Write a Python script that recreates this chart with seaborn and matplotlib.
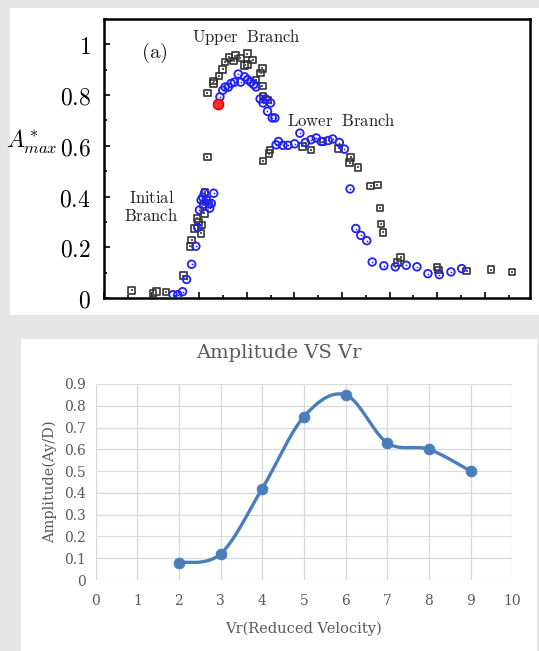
import numpy as np
import pandas as pd
import matplotlib
matplotlib.use("Agg")
import matplotlib.pyplot as plt
from matplotlib.patches import Rectangle
from matplotlib.ticker import MultipleLocator, FuncFormatter
import seaborn as sns

# top panel data: A*max against reduced velocity
sq_x = [1.16, 2.06, 2.20, 2.61, 3.33, 3.62, 3.68, 3.81, 3.91, 3.96, 4.08, 4.11, 4.15, 4.22,
        4.25, 4.31, 4.34, 4.34, 4.60, 4.61, 4.84, 4.98, 5.09, 5.26, 5.45, 5.52, 5.73, 5.91,
        6.02, 6.03, 6.25, 6.39, 6.58, 6.65, 6.65, 6.68, 6.87, 6.68, 6.94, 6.97, 8.34, 8.70,
        9.21, 9.86, 10.32, 10.36, 10.68, 11.20, 11.49, 11.59, 11.63, 11.73, 12.34, 12.46,
        14.00, 14.05, 15.24, 16.26, 17.15]
sq_y = [0.030, 0.017, 0.026, 0.024, 0.088, 0.204, 0.228, 0.274, 0.314, 0.300, 0.255, 0.288,
        0.367, 0.334, 0.416, 0.387, 0.555, 0.809, 0.846, 0.856, 0.876, 0.901, 0.930, 0.949,
        0.934, 0.956, 0.946, 0.917, 0.963, 0.920, 0.939, 0.860, 0.888, 0.905, 0.835, 0.796,
        0.780, 0.540, 0.569, 0.584, 0.598, 0.584, 0.617, 0.590, 0.534, 0.554, 0.515, 0.442,
        0.446, 0.354, 0.292, 0.259, 0.139, 0.160, 0.123, 0.110, 0.106, 0.112, 0.102]

ci_x = [2.90, 3.10, 3.30, 3.47, 3.68, 3.86, 3.94, 4.01, 4.08, 4.15, 4.22, 4.30, 4.40, 4.44,
        4.51, 4.61, 4.87, 4.99, 5.09, 5.22, 5.34, 5.48, 5.64, 5.74, 5.91, 6.03, 6.17, 6.29,
        6.39, 6.56, 6.68, 6.79, 6.87, 7.00, 7.07, 7.18, 7.23, 7.33, 7.52, 7.73, 8.01, 8.23,
        8.46, 8.70, 8.92, 9.13, 9.42, 9.61, 9.89, 10.10, 10.34, 10.58, 10.79, 11.04, 11.27,
        11.76, 12.24, 12.70, 13.15, 13.61, 14.09, 14.58, 15.03]
ci_y = [0.013, 0.013, 0.025, 0.073, 0.133, 0.204, 0.278, 0.347, 0.386, 0.397, 0.413, 0.387,
        0.371, 0.354, 0.373, 0.413, 0.793, 0.819, 0.832, 0.831, 0.846, 0.851, 0.883, 0.851,
        0.872, 0.861, 0.851, 0.842, 0.832, 0.785, 0.769, 0.785, 0.736, 0.769, 0.710, 0.710,
        0.604, 0.617, 0.602, 0.602, 0.608, 0.650, 0.613, 0.624, 0.631, 0.617, 0.621, 0.627,
        0.613, 0.587, 0.430, 0.274, 0.247, 0.226, 0.142, 0.127, 0.123, 0.129, 0.123, 0.096,
        0.092, 0.103, 0.116]

red_x = [4.77]
red_y = [0.764]

# bottom panel data
vr = [2, 3, 4, 5, 6, 7, 8, 9]
amp = [0.08, 0.12, 0.42, 0.75, 0.85, 0.63, 0.60, 0.50]

W, H = 539, 651
plt.rcParams['mathtext.fontset'] = 'cm'
fig = plt.figure(figsize=(W / 100, H / 100), dpi=100)
fig.patch.set_facecolor('#e6e6e6')

def panel(x0, y0, x1, y1):
    fig.patches.append(Rectangle((x0 / W, 1 - y1 / H), (x1 - x0) / W, (y1 - y0) / H,
                                 transform=fig.transFigure, facecolor='white',
                                 edgecolor='none', zorder=-5))

panel(10, 8, 539, 315)
panel(21, 339, 537, 651)

# ---- top panel ----
ax1 = fig.add_axes([104 / W, 1 - 298 / H, 426 / W, 279 / H])
sns.scatterplot(x=sq_x, y=sq_y, marker='s', s=22, facecolor='none', edgecolor='#333333',
                linewidth=1.2, ax=ax1, zorder=3)
sns.scatterplot(x=sq_x, y=sq_y, marker='s', s=1.5, color='#555555', linewidth=0, ax=ax1, zorder=3)
sns.scatterplot(x=ci_x, y=ci_y, marker='o', s=30, facecolor='none', edgecolor='#1f1fff',
                linewidth=1.3, ax=ax1, zorder=4)
sns.scatterplot(x=ci_x, y=ci_y, marker='o', s=1.5, color='#1f1fff', linewidth=0, ax=ax1, zorder=4)
sns.scatterplot(x=red_x, y=red_y, marker='o', s=55, color='#ff2a2a', edgecolor='#e00000',
                linewidth=1.0, ax=ax1, zorder=5)

ax1.set_xlim(0, 17.9)
ax1.set_ylim(0, 1.1)
ax1.xaxis.set_major_locator(MultipleLocator(2))
ax1.xaxis.set_minor_locator(MultipleLocator(1))
ax1.yaxis.set_major_locator(MultipleLocator(0.2))
ax1.yaxis.set_minor_locator(MultipleLocator(0.1))
ax1.set_xticklabels([])
ax1.yaxis.set_major_formatter(FuncFormatter(lambda v, p: r'$%g$' % round(v, 1)))
ax1.tick_params(which='both', direction='in', top=False, right=False, width=1.2)
ax1.tick_params(which='major', length=4.5, labelsize=17, pad=9.5)
ax1.tick_params(which='minor', length=2.5)
for sp in ax1.spines.values():
    sp.set_linewidth(1.8)
ax1.set_ylabel(r'$A^*_{max}$', fontsize=17, rotation=0, labelpad=0)
ax1.yaxis.set_label_coords(-0.17, 0.51)
ax1.text(6.0, 1.029, r'$\mathrm{Upper\ \ Branch}$', fontsize=12, ha='center', va='center', color='#222222')
ax1.text(2.1, 0.967, r'$\mathrm{(a)}$', fontsize=15, ha='center', va='center', color='#222222')
ax1.text(9.97, 0.697, r'$\mathrm{Lower\ \ Branch}$', fontsize=12, ha='center', va='center', color='#222222')
ax1.text(2.0, 0.393, r'$\mathrm{Initial}$', fontsize=12, ha='center', va='center', color='#222222')
ax1.text(2.0, 0.323, r'$\mathrm{Branch}$', fontsize=12, ha='center', va='center', color='#222222')

# ---- bottom panel ----
ax2 = fig.add_axes([95.6 / W, 1 - 580 / H, 416.6 / W, 196 / H])
ax2.set_facecolor('white')

# smoothed line like the spreadsheet chart (cubic bezier through the points)
px = np.array(vr, dtype=float)
py = np.array(amp, dtype=float)
cx, cy = [], []
t = np.linspace(0, 1, 40)
n = len(px)
for i in range(n - 1):
    p0 = np.array([px[i], py[i]])
    p3 = np.array([px[i + 1], py[i + 1]])
    pm = np.array([px[max(i - 1, 0)], py[max(i - 1, 0)]])
    pn = np.array([px[min(i + 2, n - 1)], py[min(i + 2, n - 1)]])
    c1 = p0 + (p3 - pm) / 6
    c2 = p3 - (pn - p0) / 6
    seg = ((1 - t) ** 3)[:, None] * p0 + (3 * (1 - t) ** 2 * t)[:, None] * c1 \
        + (3 * (1 - t) * t ** 2)[:, None] * c2 + (t ** 3)[:, None] * p3
    cx.extend(seg[:, 0])
    cy.extend(seg[:, 1])
curve = pd.DataFrame({'x': cx, 'y': cy})

blue = '#4a7ebb'
sns.lineplot(data=curve, x='x', y='y', sort=False, estimator=None, color=blue,
             linewidth=2.4, ax=ax2, zorder=3)
sns.scatterplot(x=vr, y=amp, s=60, color=blue, edgecolor=blue, ax=ax2, zorder=4)

ax2.set_xlim(0, 10)
ax2.set_ylim(0, 0.9)
ax2.xaxis.set_major_locator(MultipleLocator(1))
ax2.yaxis.set_major_locator(MultipleLocator(0.1))
ax2.yaxis.set_major_formatter(FuncFormatter(lambda v, p: '%g' % round(v, 1)))
ax2.grid(True, color='#d9d9d9', linewidth=0.9)
ax2.set_axisbelow(True)
for sp in ax2.spines.values():
    sp.set_visible(False)
ax2.tick_params(length=0, labelsize=10, labelcolor='#595959')
ax2.tick_params(axis='x', pad=10)
ax2.tick_params(axis='y', pad=7)
for lab in ax2.get_xticklabels() + ax2.get_yticklabels():
    lab.set_family('DejaVu Serif')
ax2.set_xlabel('Vr(Reduced Velocity)', fontsize=10.5, color='#595959', family='DejaVu Serif', labelpad=10)
ax2.set_ylabel('Amplitude(Ay/D)', fontsize=10.5, color='#595959', family='DejaVu Serif', labelpad=5)
fig.text(279 / W, 1 - 353 / H, 'Amplitude VS Vr', fontsize=14, color='#595959',
         family='DejaVu Serif', ha='center', va='center')

fig.savefig('out.png', dpi=100, facecolor=fig.get_facecolor())
